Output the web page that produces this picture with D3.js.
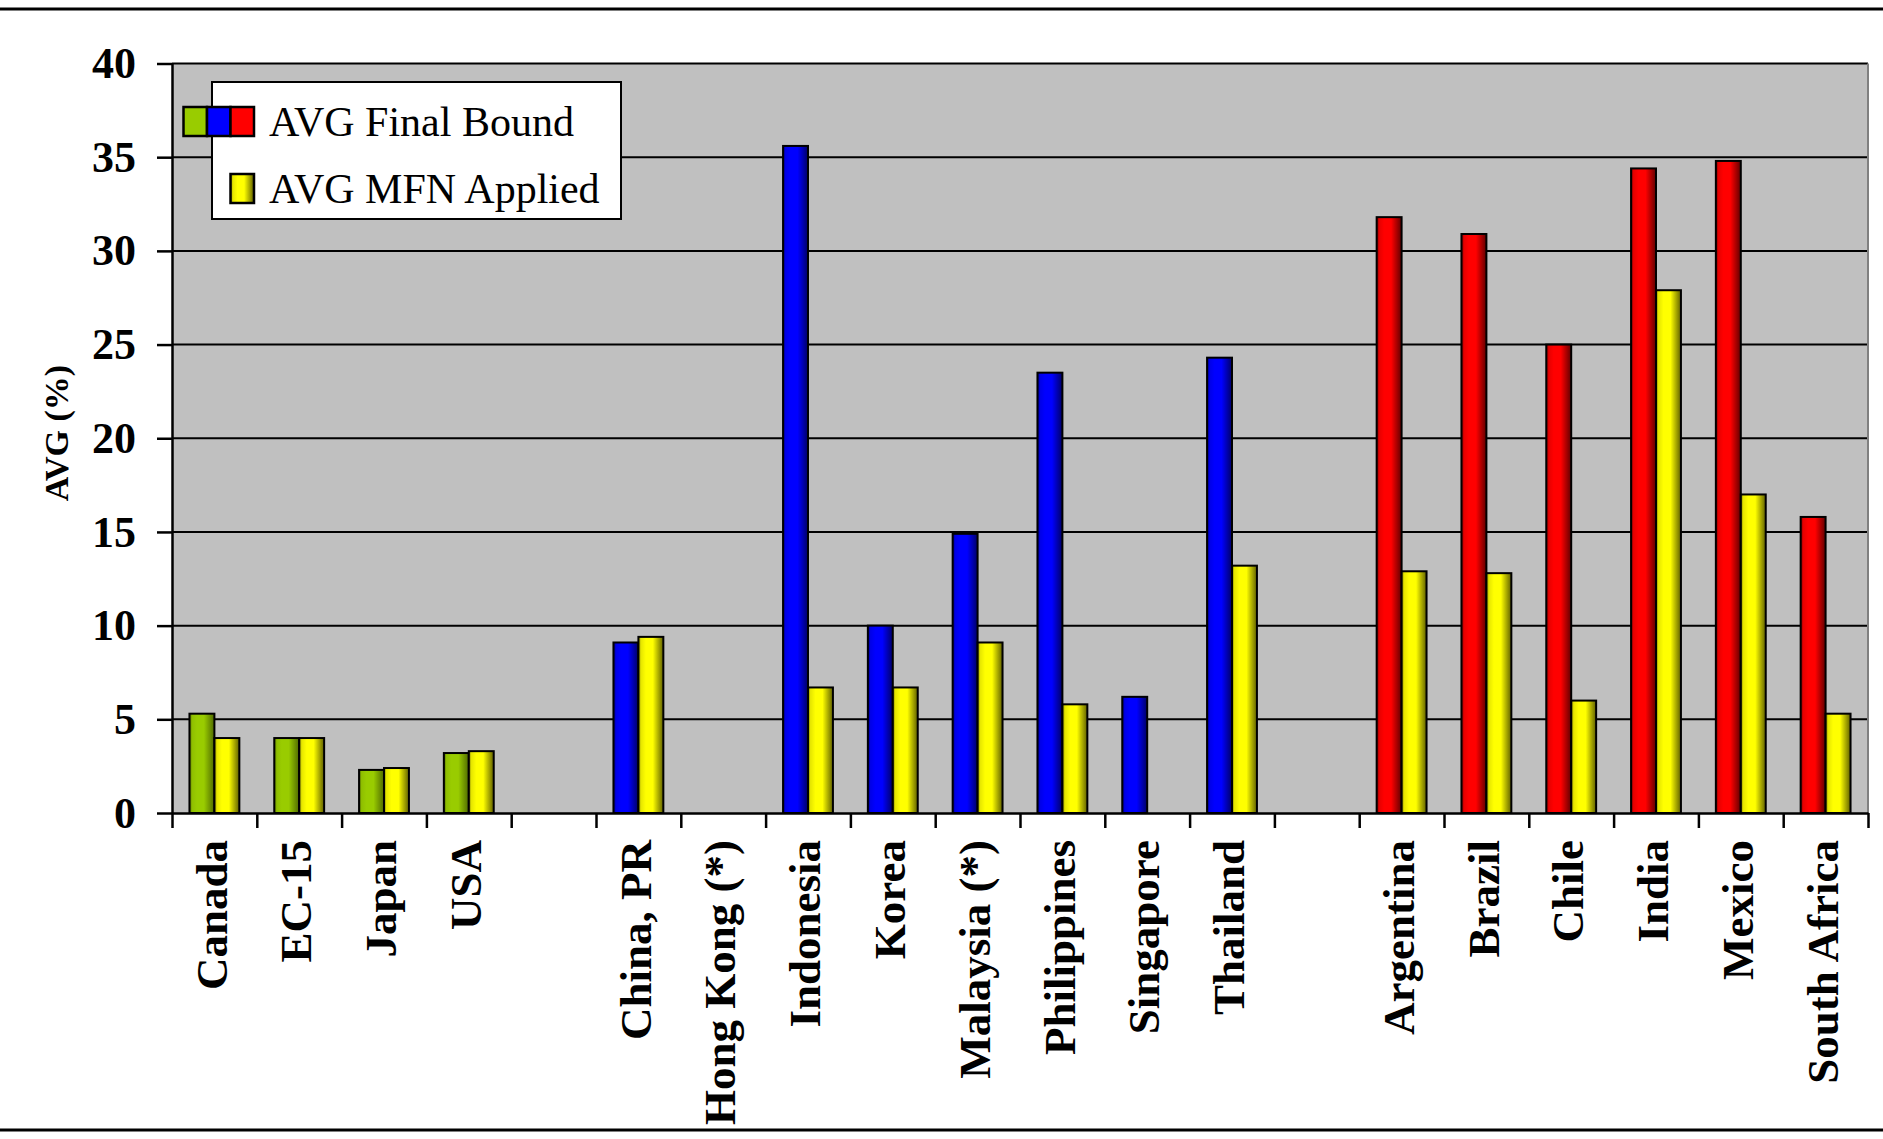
<!DOCTYPE html>
<html>
<head>
<meta charset="utf-8">
<script src="https://d3js.org/d3.v7.min.js"></script>
<style>
  html, body { margin: 0; padding: 0; background: #fff; }
  svg { display: block; }
  text { font-family: "Liberation Serif", "Times New Roman", serif; fill: #000; }
</style>
</head>
<body>
<svg id="chart" width="1883" height="1139"></svg>
<script>
// Country labels; empty strings are spacer slots between the three groups
const countries = [
  "Canada", "EC-15", "Japan", "USA", "",
  "China, PR", "Hong Kong (*)", "Indonesia", "Korea", "Malaysia (*)",
  "Philippines", "Singapore", "Thailand", "",
  "Argentina", "Brazil", "Chile", "India", "Mexico", "South Africa"
];
// Colour group of each slot's bound bar: developed / Asia / Latin America & Africa
const groups = [
  "dev", "dev", "dev", "dev", null,
  "asia", "asia", "asia", "asia", "asia", "asia", "asia", "asia", null,
  "latam", "latam", "latam", "latam", "latam", "latam"
];
// Average final bound tariff (%)
const finalBound = [
  5.3, 4.0, 2.3, 3.2, null,
  9.1, null, 35.6, 10.0, 14.9, 23.5, 6.2, 24.3, null,
  31.8, 30.9, 25.0, 34.4, 34.8, 15.8
];
// Average MFN applied tariff (%)
const mfnApplied = [
  4.0, 4.0, 2.4, 3.3, null,
  9.4, null, 6.7, 6.7, 9.1, 5.8, null, 13.2, null,
  12.9, 12.8, 6.0, 27.9, 17.0, 5.3
];
const yTicks = [0, 5, 10, 15, 20, 25, 30, 35, 40];
const legendLabels = ["AVG Final Bound", "AVG MFN Applied"];
const yTitle = "AVG (%)";

const W = 1883, H = 1139;
const plot = { left: 172, right: 1868, top: 63.5, bottom: 813 };

const svg = d3.select("#chart");
svg.append("rect").attr("width", W).attr("height", H).attr("fill", "#fff");

// Cylinder-style shading gradients
const defs = svg.append("defs");
const shades = {
  dev:   ["#4d6600", "#8fbf00", "#99cc00", "#99cc00", "#4f6a00"],
  asia:  ["#000070", "#0000e6", "#0000ff", "#0000ff", "#000066"],
  latam: ["#700000", "#e60000", "#ff0000", "#ff0000", "#600000"],
  mfn:   ["#7a7a00", "#e6e600", "#ffff00", "#ffff00", "#606000"]
};
const stopPos = [0, 0.1, 0.3, 0.58, 1];
Object.entries(shades).forEach(([key, cols]) => {
  const g = defs.append("linearGradient").attr("id", "grad-" + key)
    .attr("x1", 0).attr("x2", 1).attr("y1", 0).attr("y2", 0);
  cols.forEach((c, i) => g.append("stop").attr("offset", stopPos[i]).attr("stop-color", c));
});

// Scales
const y = d3.scaleLinear().domain([0, 40]).range([plot.bottom, plot.top]);
const x = d3.scaleBand().domain(d3.range(countries.length))
  .range([plot.left, plot.right]).paddingInner(0).paddingOuter(0);
const slot = x.bandwidth();
const barW = slot / 3.4;
const barOffset = (slot - 2 * barW) / 2;
const xEdge = d3.scaleLinear().domain([0, countries.length]).range([plot.left, plot.right]);

// Plot background
svg.append("rect")
  .attr("x", plot.left).attr("y", plot.top)
  .attr("width", plot.right - plot.left).attr("height", plot.bottom - plot.top)
  .attr("fill", "#c0c0c0");

// Horizontal gridlines
svg.append("g").selectAll("line").data(yTicks.filter(d => d > 0)).join("line")
  .attr("x1", plot.left).attr("x2", plot.right)
  .attr("y1", d => y(d)).attr("y2", d => y(d))
  .attr("stroke", "#000").attr("stroke-width", 2);

// Right edge of plot area
svg.append("line")
  .attr("x1", plot.right).attr("x2", plot.right)
  .attr("y1", plot.top).attr("y2", plot.bottom)
  .attr("stroke", "#808080").attr("stroke-width", 2);

// Bars
const bars = svg.append("g");
bars.selectAll("rect.bound")
  .data(finalBound.map((v, i) => ({ v, i })).filter(d => d.v != null))
  .join("rect").attr("class", "bound")
  .attr("x", d => x(d.i) + barOffset)
  .attr("y", d => y(d.v))
  .attr("width", barW)
  .attr("height", d => y(0) - y(d.v))
  .attr("fill", d => "url(#grad-" + groups[d.i] + ")")
  .attr("stroke", "#000").attr("stroke-width", 2);
bars.selectAll("rect.mfn")
  .data(mfnApplied.map((v, i) => ({ v, i })).filter(d => d.v != null))
  .join("rect").attr("class", "mfn")
  .attr("x", d => x(d.i) + barOffset + barW)
  .attr("y", d => y(d.v))
  .attr("width", barW)
  .attr("height", d => y(0) - y(d.v))
  .attr("fill", "url(#grad-mfn)")
  .attr("stroke", "#000").attr("stroke-width", 2);

// Y axis
const yAxis = svg.append("g")
  .attr("transform", `translate(${plot.left},0)`)
  .call(d3.axisLeft(y).tickValues(yTicks).tickSize(15).tickSizeOuter(0).tickPadding(21).tickFormat(d3.format("d")));
yAxis.select(".domain").attr("stroke", "#000").attr("stroke-width", 2.5);
yAxis.selectAll(".tick line").attr("stroke", "#000").attr("stroke-width", 2.5);
yAxis.selectAll(".tick text")
  .attr("font-family", "'Liberation Serif', 'Times New Roman', serif")
  .attr("font-size", 44).attr("font-weight", "bold").attr("fill", "#000");

// X axis: ticks on slot boundaries
const xAxis = svg.append("g")
  .attr("transform", `translate(0,${plot.bottom})`)
  .call(d3.axisBottom(xEdge).tickValues(d3.range(countries.length + 1)).tickSize(15).tickSizeOuter(0).tickFormat(""));
xAxis.select(".domain").attr("stroke", "#000").attr("stroke-width", 2.5);
xAxis.selectAll(".tick line").attr("stroke", "#000").attr("stroke-width", 2.5);

// Country labels, rotated
svg.append("g").selectAll("text")
  .data(countries.map((c, i) => ({ c, i })).filter(d => d.c !== ""))
  .join("text")
  .attr("transform", d => `translate(${x(d.i) + slot / 2},840) rotate(-90)`)
  .attr("dy", "0.27em")
  .attr("text-anchor", "end")
  .attr("font-size", 45).attr("font-weight", "bold")
  .text(d => d.c);

// Y axis title
svg.append("text")
  .attr("transform", "translate(56,433) rotate(-90)")
  .attr("dy", "0.35em")
  .attr("text-anchor", "middle")
  .attr("font-size", 34).attr("font-weight", "bold")
  .text(yTitle);

// Legend
const legend = svg.append("g");
legend.append("rect")
  .attr("x", 212).attr("y", 82).attr("width", 409).attr("height", 137)
  .attr("fill", "#fff").attr("stroke", "#000").attr("stroke-width", 2);
const swW = 23.5, swH = 29;
const boundKeys = ["dev", "asia", "latam"];
legend.selectAll("rect.sw-bound").data(boundKeys).join("rect")
  .attr("class", "sw-bound")
  .attr("x", (d, i) => 183.5 + i * swW).attr("y", 107)
  .attr("width", swW).attr("height", swH)
  .attr("fill", d => shades[d][2])
  .attr("stroke", "#000").attr("stroke-width", 2.5);
legend.append("rect")
  .attr("x", 183.5 + 2 * swW).attr("y", 174)
  .attr("width", swW).attr("height", swH)
  .attr("fill", "url(#grad-mfn)")
  .attr("stroke", "#000").attr("stroke-width", 2.5);
legend.selectAll("text").data(legendLabels).join("text")
  .attr("x", 269)
  .attr("y", (d, i) => 136 + i * 67)
  .attr("font-size", 42)
  .text(d => d);

// Frame lines above and below the chart
svg.append("line").attr("x1", 0).attr("x2", W).attr("y1", 9).attr("y2", 9)
  .attr("stroke", "#000").attr("stroke-width", 3);
svg.append("line").attr("x1", 0).attr("x2", W).attr("y1", 1130).attr("y2", 1130)
  .attr("stroke", "#000").attr("stroke-width", 3);
</script>
</body>
</html>
